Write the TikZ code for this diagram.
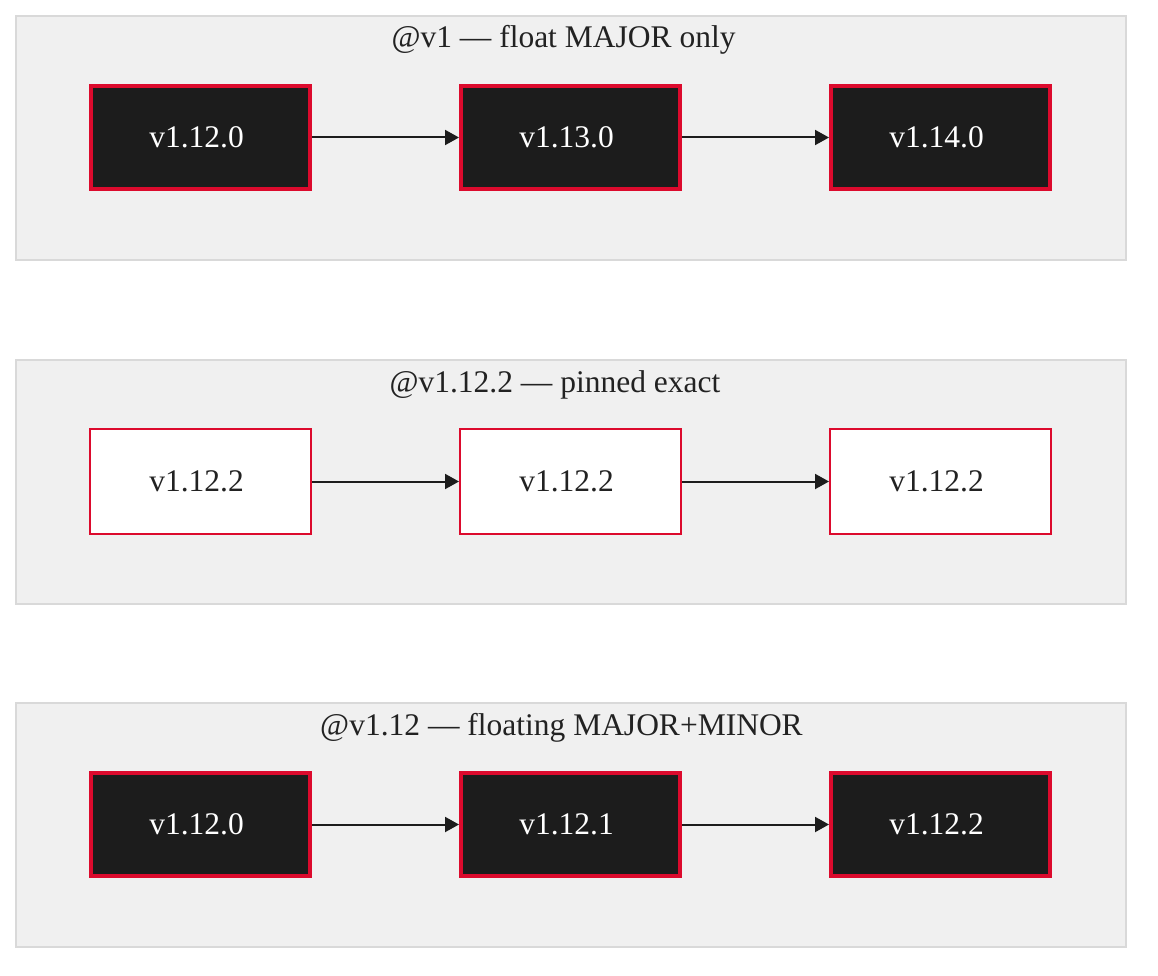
\documentclass[tikz,border=0pt]{standalone}
\usepackage{fontspec}
\setmainfont{Liberation Serif}
\usetikzlibrary{arrows.meta}
\definecolor{clfill}{HTML}{F0F0F0}
\definecolor{clline}{HTML}{D9D9D9}
\definecolor{vred}{HTML}{DC0A2D}
\definecolor{vdark}{HTML}{1C1C1C}
\definecolor{vtext}{HTML}{222222}
\newcommand{\lbl}[1]{#1\hspace*{8pt}}
\tikzset{
  cluster/.style={draw=clline, fill=clfill, line width=2pt},
  title/.style={anchor=base, text=vtext, font=\fontsize{31.5}{38}\selectfont, inner sep=0pt},
  darkbox/.style={draw=vred, fill=vdark, line width=4pt, minimum width=219pt, minimum height=103pt, text=white, font=\fontsize{31.5}{38}\selectfont, inner sep=0pt},
  lightbox/.style={draw=vred, fill=white, line width=2pt, minimum width=221pt, minimum height=105pt, text=vtext, font=\fontsize{31.5}{38}\selectfont, inner sep=0pt},
  flow/.style={draw=vdark, line width=2pt, -{Triangle[length=14pt, width=15pt]}},
}
\begin{document}
\begin{tikzpicture}[x=1pt, y=-1pt]
\useasboundingbox (0,0) rectangle (1158,976);
% cluster 1
\draw[cluster] (16,16) rectangle (1126,260);
\node[title] (t1) at (563.5,48) {@v1 — float MAJOR only};
\node[darkbox] (a1) at (200.5,137.5) {\lbl{v1.12.0}};
\node[darkbox] (a2) at (570.5,137.5) {\lbl{v1.13.0}};
\node[darkbox] (a3) at (940.5,137.5) {\lbl{v1.14.0}};
\draw[flow] (a1) -- (a2);
\draw[flow] (a2) -- (a3);
% cluster 2
\draw[cluster] (16,359.5) rectangle (1126,604);
\node[title] (t2) at (555,392) {@v1.12.2 — pinned exact};
\node[lightbox] (b1) at (200.5,481.5) {\lbl{v1.12.2}};
\node[lightbox] (b2) at (570.5,481.5) {\lbl{v1.12.2}};
\node[lightbox] (b3) at (940.5,481.5) {\lbl{v1.12.2}};
\draw[flow] (b1) -- (b2);
\draw[flow] (b2) -- (b3);
% cluster 3
\draw[cluster] (16,703) rectangle (1126,947);
\node[title] (t3) at (561.5,735) {@v1.12 — floating MAJOR+MINOR};
\node[darkbox] (c1) at (200.5,824.5) {\lbl{v1.12.0}};
\node[darkbox] (c2) at (570.5,824.5) {\lbl{v1.12.1}};
\node[darkbox] (c3) at (940.5,824.5) {\lbl{v1.12.2}};
\draw[flow] (c1) -- (c2);
\draw[flow] (c2) -- (c3);
\end{tikzpicture}
\end{document}
